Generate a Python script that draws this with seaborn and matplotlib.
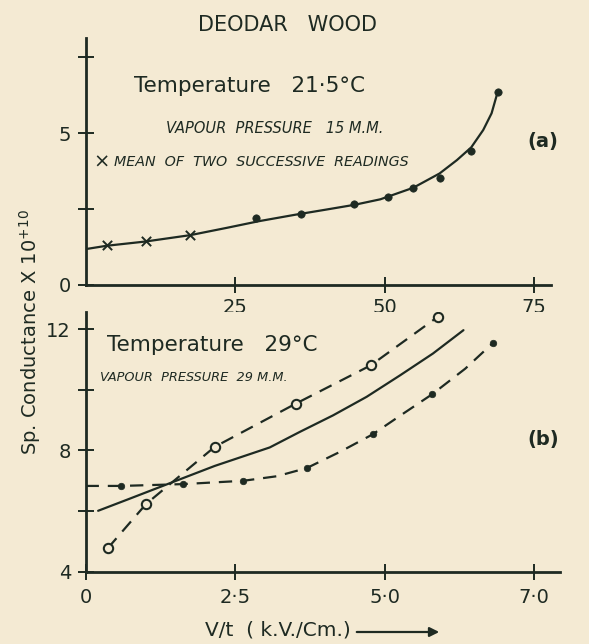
import matplotlib
matplotlib.use("Agg")
import matplotlib.pyplot as plt
import seaborn as sns
import pandas as pd

# ---------------- data ----------------
# Panel (a): Temperature 21.5 C
a_cross_x = [3.5, 10.1, 17.5]
a_cross_y = [1.30, 1.44, 1.66]
a_dot_x = [28.5, 36.0, 44.9, 50.5, 54.8, 59.2, 64.5, 68.9]
a_dot_y = [2.20, 2.33, 2.65, 2.88, 3.18, 3.51, 4.42, 6.34]
a_curve_x = [0, 3.5, 10, 17.5, 23.6, 29, 35, 40.2, 45, 49.3, 54.8, 59.2, 62.1, 64.5, 66.5, 67.9, 68.9]
a_curve_y = [1.18, 1.29, 1.43, 1.64, 1.88, 2.10, 2.31, 2.48, 2.64, 2.82, 3.20, 3.67, 4.11, 4.53, 5.10, 5.65, 6.34]

# Panel (b): Temperature 29 C
b_open_x = [0.37, 1.01, 2.16, 3.52, 4.77, 5.89]
b_open_y = [4.77, 6.23, 8.12, 9.55, 10.81, 12.41]
b_filled_x = [0.60, 1.63, 2.64, 3.70, 4.80, 5.80, 6.82]
b_filled_y = [6.83, 6.89, 7.00, 7.42, 8.53, 9.86, 11.56]
b_lower_curve_x = [0.0, 0.60, 1.63, 2.64, 3.20, 3.70, 4.26, 4.80, 5.30, 5.80, 6.35, 6.82]
b_lower_curve_y = [6.83, 6.83, 6.89, 7.00, 7.15, 7.42, 7.96, 8.53, 9.20, 9.86, 10.70, 11.56]
b_solid_x = [0.21, 0.70, 1.33, 2.16, 3.08, 3.58, 4.14, 4.70, 5.26, 5.81, 6.32]
b_solid_y = [6.01, 6.38, 6.86, 7.49, 8.10, 8.61, 9.16, 9.77, 10.48, 11.20, 11.97]

a_xticks = [25, 50, 75]
a_xticklabels = ["25", "50", "75"]
a_yticks = [0, 2.5, 5, 7.5]
a_yticklabels = ["0", "", "5", ""]
b_xticks = [0, 2.5, 5, 7.5]
b_xticklabels = ["0", "2·5", "5·0", "7·0"]
b_yticks = [4, 6, 8, 10, 12]
b_yticklabels = ["4", "", "8", "", "12"]

# ---------------- style ----------------
sns.set_style("white")
plt.rcParams["font.family"] = ["DejaVu Sans"]
BG = "#f4ead3"
INK = "#1e2a22"

fig = plt.figure(figsize=(5.89, 6.44), dpi=100)
fig.patch.set_facecolor(BG)

ax1 = fig.add_axes([0.1453, 0.5575, 0.7908, 0.3835])
ax2 = fig.add_axes([0.1453, 0.1123, 0.806, 0.4037])

for ax in (ax1, ax2):
    ax.set_facecolor(BG)
    for s in ("top", "right"):
        ax.spines[s].set_visible(False)
    for s in ("left", "bottom"):
        ax.spines[s].set_color(INK)
        ax.spines[s].set_linewidth(2.0)
    ax.tick_params(direction="inout", length=11, width=1.4, colors=INK,
                   labelsize=14, pad=5, bottom=True, left=True)

# ---------------- panel (a) ----------------
sns.lineplot(x=a_curve_x, y=a_curve_y, ax=ax1, color=INK, lw=1.6,
             sort=False, estimator=None)
sns.scatterplot(x=a_cross_x, y=a_cross_y, ax=ax1, marker="x", s=45,
                color=INK, linewidth=1.4)
sns.scatterplot(x=a_dot_x, y=a_dot_y, ax=ax1, marker="o", s=28,
                color=INK, edgecolor=INK, linewidth=0.5)
ax1.set_xlim(0, 77.9)
ax1.set_ylim(0, 8.13)
ax1.set_xticks(a_xticks)
ax1.set_xticklabels(a_xticklabels)
ax1.set_yticks(a_yticks)
ax1.set_yticklabels(a_yticklabels)
ax1.tick_params(axis="x", pad=4)

ax1.text(0.105, 0.805, "Temperature   21·5°C", transform=ax1.transAxes,
         fontsize=15.5, color=INK, va="center", ha="left")
ax1.text(0.172, 0.635, "VAPOUR  PRESSURE   15 M.M.", transform=ax1.transAxes,
         fontsize=10.5, style="italic", color=INK, va="center", ha="left")
ax1.text(0.017, 0.497, "×", transform=ax1.transAxes,
         fontsize=14, color=INK, va="center", ha="left")
ax1.text(0.06, 0.497, "MEAN  OF  TWO  SUCCESSIVE  READINGS", transform=ax1.transAxes,
         fontsize=10.3, style="italic", color=INK, va="center", ha="left")

# ---------------- panel (b) ----------------
sns.lineplot(x=b_solid_x, y=b_solid_y, ax=ax2, color=INK, lw=1.6,
             sort=False, estimator=None)
sns.lineplot(x=b_open_x, y=b_open_y, ax=ax2, color=INK, lw=1.6,
             sort=False, estimator=None)
ax2.lines[-1].set_dashes([6, 4])
sns.lineplot(x=b_lower_curve_x, y=b_lower_curve_y, ax=ax2, color=INK, lw=1.6,
             sort=False, estimator=None)
ax2.lines[-1].set_dashes([6, 4])
sns.scatterplot(x=b_open_x, y=b_open_y, ax=ax2, marker="o", s=45,
                facecolor=BG, edgecolor=INK, linewidth=1.5, zorder=5)
sns.scatterplot(x=b_filled_x, y=b_filled_y, ax=ax2, marker="o", s=22,
                color=INK, edgecolor=INK, linewidth=0.5, zorder=5)
ax2.set_xlim(0, 7.94)
ax2.set_ylim(4, 12.58)
ax2.set_xticks(b_xticks)
ax2.set_xticklabels(b_xticklabels)
ax2.set_yticks(b_yticks)
ax2.set_yticklabels(b_yticklabels)
ax2.tick_params(axis="x", pad=6)

ax2.text(0.045, 0.87, "Temperature   29°C", transform=ax2.transAxes,
         fontsize=15.5, color=INK, va="center", ha="left")
ax2.text(0.03, 0.745, "VAPOUR  PRESSURE  29 M.M.", transform=ax2.transAxes,
         fontsize=9.3, style="italic", color=INK, va="center", ha="left")

# ---------------- figure texts ----------------
fig.text(288 / 589, 1 - 25 / 644, "DEODAR   WOOD", fontsize=15, color=INK,
         ha="center", va="center")
fig.text(543 / 589, 1 - 142 / 644, "(a)", fontsize=14, fontweight="bold",
         color=INK, ha="center", va="center")
fig.text(543 / 589, 1 - 440 / 644, "(b)", fontsize=14, fontweight="bold",
         color=INK, ha="center", va="center")
fig.text(30 / 589, 1 - 332 / 644, "Sp. Conductance X 10$^{+10}$", fontsize=14,
         color=INK, rotation=90, ha="center", va="center")
fig.text(205 / 589, 1 - 630 / 644, "V/t  ( k.V./Cm.)", fontsize=14.5, color=INK,
         ha="left", va="center")
fig.patches.append(matplotlib.patches.FancyArrowPatch(
    (354 / 589, 1 - 632 / 644), (442 / 589, 1 - 632 / 644),
    transform=fig.transFigure, arrowstyle="-|>", mutation_scale=14,
    color=INK, lw=1.6))

fig.savefig("out.png", dpi=100, facecolor=BG)
